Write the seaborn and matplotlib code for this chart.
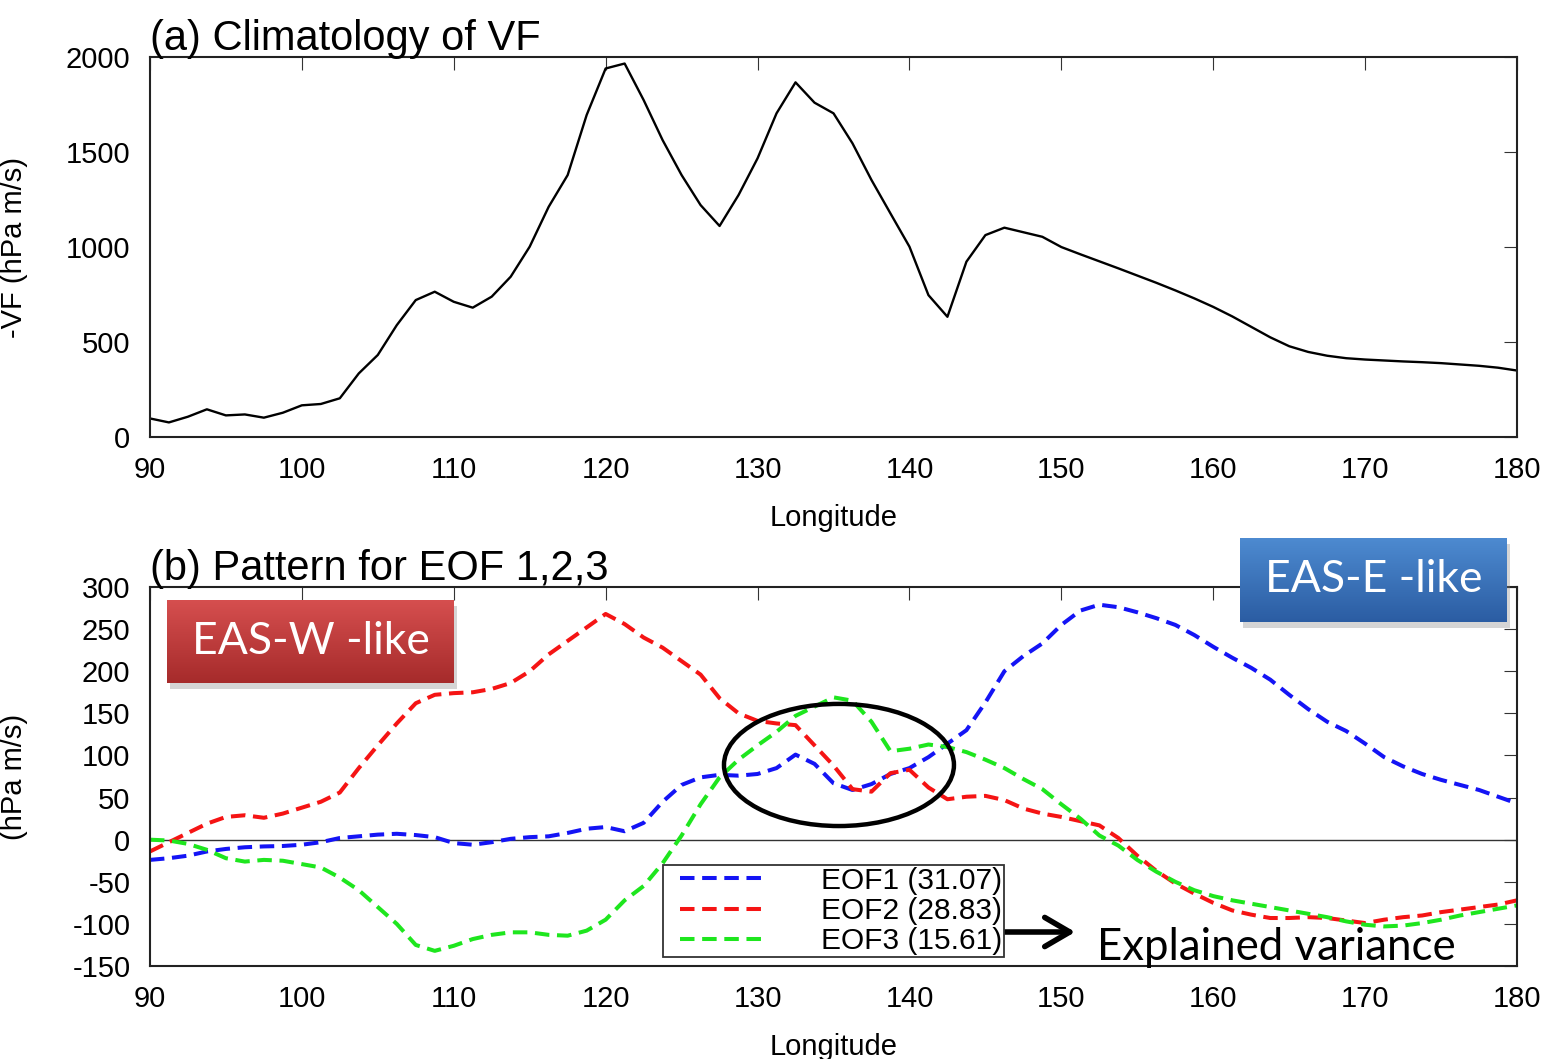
import numpy as np
import matplotlib
matplotlib.use("Agg")
import matplotlib.pyplot as plt
import matplotlib.patches as mpatches
from matplotlib.colors import LinearSegmentedColormap
import seaborn as sns

sns.set_style("white")
plt.rcParams["font.family"] = ["Liberation Sans", "DejaVu Sans"]
plt.rcParams["axes.unicode_minus"] = False
plt.rcParams.update({"text.color": "black", "axes.labelcolor": "black",
                     "xtick.color": "black", "ytick.color": "black"})

# ── Data (1.25 deg grid) ─────────────────────────────────────────────────────
lon = np.linspace(90, 180, 73)

vf = [98, 77, 107, 146, 114, 119, 102, 128,
      167, 174, 204, 335, 432, 589, 721, 765,
      712, 681, 739, 844, 1002, 1212, 1379, 1695,
      1940, 1966, 1774, 1563, 1379, 1221, 1111, 1274,
      1467, 1704, 1867, 1760, 1704, 1546, 1353, 1177,
      1002, 747, 633, 923, 1063, 1102, 1078, 1054,
      1000, 962, 925, 888, 850, 812, 772, 730,
      685, 635, 580, 525, 478, 448, 428, 415,
      408, 403, 398, 394, 389, 382, 375, 365,
      350]

eof1 = [-24, -22, -19, -14, -11, -9, -8, -7.5,
        -6, -3, 2, 4, 6, 7, 5.5, 3,
        -4, -6, -3, 1, 3, 4, 8, 13,
        15, 10, 20, 45, 65, 74, 77, 76,
        78, 85, 101, 90, 67, 59, 66, 78,
        85, 98, 114, 130, 163, 200, 218, 233,
        255, 272, 279, 276, 270, 263, 255, 243,
        229, 216, 204, 190, 172, 155, 140, 129,
        114, 98, 87, 78, 71, 65, 59, 51,
        43]

eof2 = [-14, -3, 8, 19, 27, 29, 26, 31,
        38, 45, 56, 85, 112, 138, 162, 172,
        174, 175, 179, 186, 200, 220, 236, 252,
        268, 256, 240, 228, 212, 196, 168, 150,
        141, 138, 136, 112, 88, 60, 57, 79,
        83, 62, 48, 51, 52, 47, 37, 31,
        27, 22, 17, 2, -19, -37, -52, -64,
        -75, -84, -89, -93, -93, -92, -93, -96,
        -99, -95, -92, -90, -86, -83, -80, -77,
        -72]

eof3 = [0, -1, -5, -12, -22, -26, -24, -25,
        -29, -33, -45, -60, -80, -100, -125, -132,
        -126, -118, -113, -110, -110, -113, -114, -108,
        -95, -72, -55, -28, 5, 42, 74, 95,
        112, 128, 147, 158, 169, 165, 140, 105,
        108, 113, 110, 104, 95, 85, 72, 60,
        42, 25, 5, -7, -24, -38, -50, -60,
        -67, -72, -76, -80, -84, -88, -92, -97,
        -101, -103, -102, -99, -95, -90, -86, -82,
        -78]

eof_labels = ["EOF1 (31.07)", "EOF2 (28.83)", "EOF3 (15.61)"]
eof_colors = ["#1414f5", "#f51414", "#1ee61e"]

# ── Figure ───────────────────────────────────────────────────────────────────
fig = plt.figure(figsize=(15.52, 10.59), dpi=100)
ax1 = fig.add_axes([0.0966, 0.5873, 0.8809, 0.3588])
ax2 = fig.add_axes([0.0966, 0.0878, 0.8809, 0.3579])


def style_axes(ax, ylim, yticks, ylabel, title):
    ax.set_xlim(90, 180)
    ax.set_ylim(*ylim)
    ax.set_xticks(range(90, 181, 10))
    ax.set_yticks(yticks)
    ax.tick_params(direction="in", length=9.5, width=0.8, top=True, right=True,
                   labelsize=21, pad=14, color="#333")
    ax.set_xlabel("Longitude", fontsize=21, labelpad=14)
    ax.set_ylabel(ylabel, fontsize=21)
    ax.yaxis.set_label_coords(-0.089, 0.5)
    ax.set_title(title, loc="left", fontsize=30, pad=5)
    for s in ax.spines.values():
        s.set_linewidth(1.5)
        s.set_color("#222")


# (a) climatology
sns.lineplot(x=lon, y=vf, color="black", linewidth=1.7, ax=ax1)
style_axes(ax1, (0, 2000), range(0, 2001, 500), "-VF (hPa m/s)",
           "(a) Climatology of VF")

# (b) EOF patterns
ax2.axhline(0, color="#333", lw=1.0, zorder=1)
for vals, lab, col in zip([eof1, eof2, eof3], eof_labels, eof_colors):
    sns.lineplot(x=lon, y=vals, color=col, linewidth=2.9, ax=ax2, label=lab,
                 dashes=(3.6, 1.9), zorder=2)
style_axes(ax2, (-150, 300), range(-150, 301, 50), "(hPa m/s)",
           "(b) Pattern for EOF 1,2,3")

# legend with a plain square frame
frame = mpatches.Rectangle((0.3753, 0.0237), 0.2494, 0.2427, transform=ax2.transAxes,
                           facecolor="white", edgecolor="#333", lw=1.3, zorder=4)
ax2.add_patch(frame)
leg = ax2.legend(loc="upper left", bbox_to_anchor=(0.388, 0.262), borderaxespad=0,
                 frameon=False, handlelength=2.8, handletextpad=1.9,
                 labelspacing=0.08, borderpad=0, prop={"size": 21.5})
leg.set_zorder(5)

# ellipse highlighting the overlap region
ax2.add_patch(mpatches.Ellipse((135.36, 88.7), 15.14, 145, fill=False,
                               ec="black", lw=3.2, zorder=6))

# arrow + note
ax2.annotate("", xy=(1078 / 1552, 127 / 1059), xytext=(998 / 1552, 127 / 1059),
             xycoords="figure fraction", textcoords="figure fraction",
             arrowprops=dict(arrowstyle="->,head_length=0.6,head_width=0.35",
                             lw=4, color="black", mutation_scale=30),
             annotation_clip=False)
fig.text(1097 / 1552, 1 - 960 / 1059, "Explained variance", fontsize=31.5,
         family=["Lato", "DejaVu Sans"], va="baseline", ha="left")


def label_box(rect, text, top, bottom):
    l, b, w, h = rect
    shadow = mpatches.Rectangle((l + 0.002, b - 0.006), w, h, transform=fig.transFigure,
                                facecolor="#888", alpha=0.35, lw=0, zorder=9)
    fig.patches.append(shadow)
    bx = fig.add_axes(rect)
    bx.set_zorder(10)
    cmap = LinearSegmentedColormap.from_list("g", [top, bottom])
    bx.imshow(np.linspace(0, 1, 64)[:, None], aspect="auto", cmap=cmap,
              extent=[0, 1, 0, 1])
    bx.set_axis_off()
    bx.text(0.5, 0.5, text, color="white", fontsize=32, family=["Lato", "DejaVu Sans"],
            ha="center", va="center", transform=bx.transAxes)


label_box([0.1076, 0.3550, 0.1849, 0.0784], "EAS-W -like", "#d64f4f", "#a62b2b")
label_box([0.7990, 0.4127, 0.1720, 0.0793], "EAS-E -like", "#4d8ad0", "#2b5da3")

fig.savefig("out.png", dpi=100)
